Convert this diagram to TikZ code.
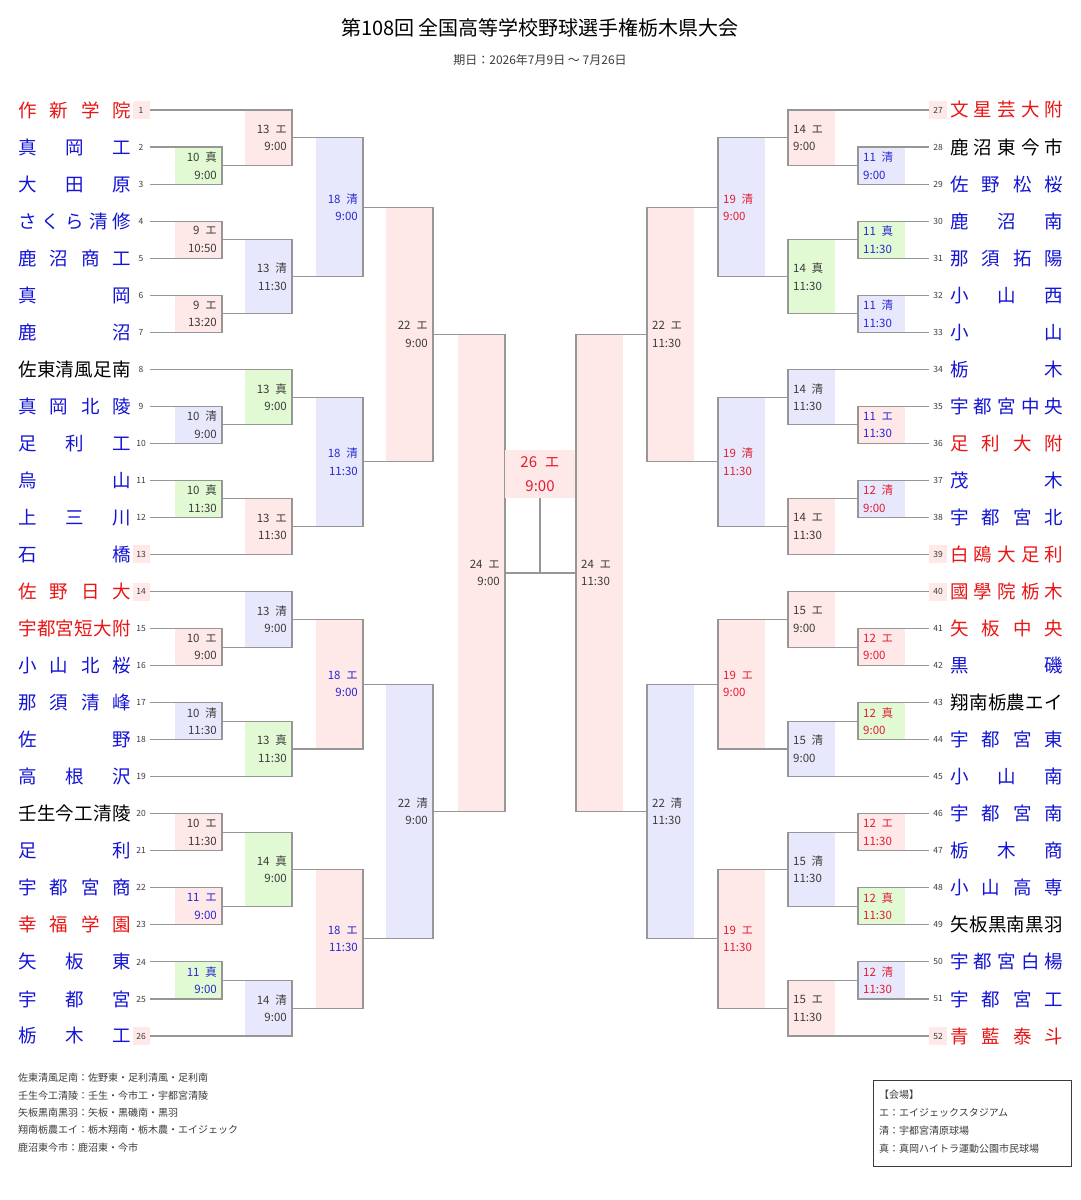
\documentclass[tikz,border=0pt]{standalone}
\usepackage{fontspec}
\usetikzlibrary{calc}
\setmainfont{Noto Sans CJK JP}
\definecolor{pk}{RGB}{255,232,232}
\definecolor{gr}{RGB}{226,250,212}
\definecolor{lv}{RGB}{232,232,252}
\definecolor{dk}{RGB}{60,60,60}
\definecolor{bl}{RGB}{40,40,210}
\definecolor{rd}{RGB}{225,30,50}
\definecolor{tred}{RGB}{235,20,20}
\definecolor{tblue}{RGB}{20,20,215}
\definecolor{lng}{RGB}{150,150,150}
\def\sprd#1{\sprdA#1\relax}
\def\sprdA#1#2{#1\ifx\relax#2\else\hfill\expandafter\sprdA\expandafter#2\fi}
\tikzset{
  ln/.style={draw=lng,line width=1.1pt},
  lbl/.style={font=\fontsize{11.5}{17.5}\selectfont,inner sep=0pt},
  team/.style={anchor=west,inner sep=0pt,font=\fontsize{18.5}{20}\selectfont},
  num/.style={font=\fontsize{8.5}{9}\selectfont,text=dk,inner sep=0pt},
}
% left match: id, X, a, b, fill, day, time, textcolor
\newcommand\mL[8]{%
  \fill[#5] let \p1=(#3),\p2=(#4) in ({(#2-47)*1pt},\y1) rectangle ({#2*1pt},\y2);
  \draw[ln] let \p1=(#3),\p2=(#4) in (#3) -- ({#2*1pt},\y1) -- ({#2*1pt},\y2) -- (#4);
  \path let \p1=(#3),\p2=(#4) in ({#2*1pt},{0.5*\y1+0.5*\y2}) coordinate (#1)
    node[lbl,anchor=east,align=right,text=#8,xshift=-5pt] {#6\\#7};
}
\newcommand\mR[8]{%
  \fill[#5] let \p1=(#3),\p2=(#4) in ({#2*1pt},\y1) rectangle ({(#2+47)*1pt},\y2);
  \draw[ln] let \p1=(#3),\p2=(#4) in (#3) -- ({#2*1pt},\y1) -- ({#2*1pt},\y2) -- (#4);
  \path let \p1=(#3),\p2=(#4) in ({#2*1pt},{0.5*\y1+0.5*\y2}) coordinate (#1)
    node[lbl,anchor=west,align=left,text=#8,xshift=5pt] {#6\\#7};
}
\newcommand\tmL[4]{% k, name, color, seed
  \coordinate (t#1) at (150,{110+37.04*(#1-1)});
  \ifx#4s\fill[pk] (133,{110+37.04*(#1-1)-9}) rectangle (150,{110+37.04*(#1-1)+9});\fi
  \node[num] (n#1) at (141,{110+37.04*(#1-1)}) {#1};
  \node[team,text=#3] (nm#1) at (18,{110+37.04*(#1-1)}) {\makebox[113pt]{\sprd{#2}}};
}
\newcommand\tmR[4]{%
  \coordinate (t#1) at (929,{110+37.04*(#1-27)});
  \ifx#4s\fill[pk] (929,{110+37.04*(#1-27)-9}) rectangle (947,{110+37.04*(#1-27)+9});\fi
  \node[num] (n#1) at (938,{110+37.04*(#1-27)}) {#1};
  \node[team,text=#3] (nm#1) at (950,{110+37.04*(#1-27)}) {\makebox[113pt]{\sprd{#2}}};
}
\begin{document}
\begin{tikzpicture}[x=1pt,y=-1pt]
\useasboundingbox[fill=white] (0,0) rectangle (1081,1200);
\node[font=\fontsize{20}{22}\selectfont] (title) at (540,28) {第108回\ 全国高等学校野球選手権栃木県大会};
\node[font=\fontsize{12}{14}\selectfont,text=dk] (sub) at (540,60) {期日：2026年7月9日\ ～\ 7月26日};
% left teams
\tmL{1}{作新学院}{tred}{s}
\tmL{2}{真岡工}{tblue}{n}
\tmL{3}{大田原}{tblue}{n}
\tmL{4}{さくら清修}{tblue}{n}
\tmL{5}{鹿沼商工}{tblue}{n}
\tmL{6}{真岡}{tblue}{n}
\tmL{7}{鹿沼}{tblue}{n}
\tmL{8}{佐東清風足南}{black}{n}
\tmL{9}{真岡北陵}{tblue}{n}
\tmL{10}{足利工}{tblue}{n}
\tmL{11}{烏山}{tblue}{n}
\tmL{12}{上三川}{tblue}{n}
\tmL{13}{石橋}{tblue}{s}
\tmL{14}{佐野日大}{tred}{s}
\tmL{15}{宇都宮短大附}{tred}{n}
\tmL{16}{小山北桜}{tblue}{n}
\tmL{17}{那須清峰}{tblue}{n}
\tmL{18}{佐野}{tblue}{n}
\tmL{19}{高根沢}{tblue}{n}
\tmL{20}{壬生今工清陵}{black}{n}
\tmL{21}{足利}{tblue}{n}
\tmL{22}{宇都宮商}{tblue}{n}
\tmL{23}{幸福学園}{tred}{n}
\tmL{24}{矢板東}{tblue}{n}
\tmL{25}{宇都宮}{tblue}{n}
\tmL{26}{栃木工}{tblue}{s}
% right teams
\tmR{27}{文星芸大附}{tred}{s}
\tmR{28}{鹿沼東今市}{black}{n}
\tmR{29}{佐野松桜}{tblue}{n}
\tmR{30}{鹿沼南}{tblue}{n}
\tmR{31}{那須拓陽}{tblue}{n}
\tmR{32}{小山西}{tblue}{n}
\tmR{33}{小山}{tblue}{n}
\tmR{34}{栃木}{tblue}{n}
\tmR{35}{宇都宮中央}{tblue}{n}
\tmR{36}{足利大附}{tred}{n}
\tmR{37}{茂木}{tblue}{n}
\tmR{38}{宇都宮北}{tblue}{n}
\tmR{39}{白鴎大足利}{tred}{s}
\tmR{40}{國學院栃木}{tred}{s}
\tmR{41}{矢板中央}{tred}{n}
\tmR{42}{黒磯}{tblue}{n}
\tmR{43}{翔南栃農エイ}{black}{n}
\tmR{44}{宇都宮東}{tblue}{n}
\tmR{45}{小山南}{tblue}{n}
\tmR{46}{宇都宮南}{tblue}{n}
\tmR{47}{栃木商}{tblue}{n}
\tmR{48}{小山高専}{tblue}{n}
\tmR{49}{矢板黒南黒羽}{black}{n}
\tmR{50}{宇都宮白楊}{tblue}{n}
\tmR{51}{宇都宮工}{tblue}{n}
\tmR{52}{青藍泰斗}{tred}{s}
% left matches
\mL{A}{222}{t2}{t3}{gr}{10\hspace{0.5em}真}{9:00}{dk}
\mL{B}{292}{t1}{A}{pk}{13\hspace{0.5em}エ}{9:00}{dk}
\mL{C}{222}{t4}{t5}{pk}{9\hspace{0.5em}エ}{10:50}{dk}
\mL{D}{222}{t6}{t7}{pk}{9\hspace{0.5em}エ}{13:20}{dk}
\mL{E}{292}{C}{D}{lv}{13\hspace{0.5em}清}{11:30}{dk}
\mL{F}{363}{B}{E}{lv}{18\hspace{0.5em}清}{9:00}{bl}
\mL{G}{222}{t9}{t10}{lv}{10\hspace{0.5em}清}{9:00}{dk}
\mL{H}{292}{t8}{G}{gr}{13\hspace{0.5em}真}{9:00}{dk}
\mL{I}{222}{t11}{t12}{gr}{10\hspace{0.5em}真}{11:30}{dk}
\mL{J}{292}{I}{t13}{pk}{13\hspace{0.5em}エ}{11:30}{dk}
\mL{K}{363}{H}{J}{lv}{18\hspace{0.5em}清}{11:30}{bl}
\mL{L}{433}{F}{K}{pk}{22\hspace{0.5em}エ}{9:00}{dk}
\mL{M}{222}{t15}{t16}{pk}{10\hspace{0.5em}エ}{9:00}{dk}
\mL{N}{292}{t14}{M}{lv}{13\hspace{0.5em}清}{9:00}{dk}
\mL{O}{222}{t17}{t18}{lv}{10\hspace{0.5em}清}{11:30}{dk}
\mL{P}{292}{O}{t19}{gr}{13\hspace{0.5em}真}{11:30}{dk}
\mL{Q}{363}{N}{P}{pk}{18\hspace{0.5em}エ}{9:00}{bl}
\mL{R}{222}{t20}{t21}{pk}{10\hspace{0.5em}エ}{11:30}{dk}
\mL{S}{222}{t22}{t23}{pk}{11\hspace{0.5em}エ}{9:00}{bl}
\mL{T}{292}{R}{S}{gr}{14\hspace{0.5em}真}{9:00}{dk}
\mL{U}{222}{t24}{t25}{gr}{11\hspace{0.5em}真}{9:00}{bl}
\mL{V}{292}{U}{t26}{lv}{14\hspace{0.5em}清}{9:00}{dk}
\mL{W}{363}{T}{V}{pk}{18\hspace{0.5em}エ}{11:30}{bl}
\mL{X}{433}{Q}{W}{lv}{22\hspace{0.5em}清}{9:00}{dk}
\mL{Y}{505}{L}{X}{pk}{24\hspace{0.5em}エ}{9:00}{dk}
% right matches
\mR{ra}{858}{t28}{t29}{lv}{11\hspace{0.5em}清}{9:00}{bl}
\mR{rb}{788}{t27}{ra}{pk}{14\hspace{0.5em}エ}{9:00}{dk}
\mR{rc}{858}{t30}{t31}{gr}{11\hspace{0.5em}真}{11:30}{bl}
\mR{rd}{858}{t32}{t33}{lv}{11\hspace{0.5em}清}{11:30}{bl}
\mR{re}{788}{rc}{rd}{gr}{14\hspace{0.5em}真}{11:30}{dk}
\mR{rf}{718}{rb}{re}{lv}{19\hspace{0.5em}清}{9:00}{rd}
\mR{rg}{858}{t35}{t36}{pk}{11\hspace{0.5em}エ}{11:30}{bl}
\mR{rh}{788}{t34}{rg}{lv}{14\hspace{0.5em}清}{11:30}{dk}
\mR{ri}{858}{t37}{t38}{lv}{12\hspace{0.5em}清}{9:00}{rd}
\mR{rj}{788}{ri}{t39}{pk}{14\hspace{0.5em}エ}{11:30}{dk}
\mR{rk}{718}{rh}{rj}{lv}{19\hspace{0.5em}清}{11:30}{rd}
\mR{rl}{647}{rf}{rk}{pk}{22\hspace{0.5em}エ}{11:30}{dk}
\mR{rm}{858}{t41}{t42}{pk}{12\hspace{0.5em}エ}{9:00}{rd}
\mR{rn}{788}{t40}{rm}{pk}{15\hspace{0.5em}エ}{9:00}{dk}
\mR{ro}{858}{t43}{t44}{gr}{12\hspace{0.5em}真}{9:00}{rd}
\mR{rp}{788}{ro}{t45}{lv}{15\hspace{0.5em}清}{9:00}{dk}
\mR{rq}{718}{rn}{rp}{pk}{19\hspace{0.5em}エ}{9:00}{rd}
\mR{rr}{858}{t46}{t47}{pk}{12\hspace{0.5em}エ}{11:30}{rd}
\mR{rs}{858}{t48}{t49}{gr}{12\hspace{0.5em}真}{11:30}{rd}
\mR{rt}{788}{rr}{rs}{lv}{15\hspace{0.5em}清}{11:30}{dk}
\mR{ru}{858}{t50}{t51}{lv}{12\hspace{0.5em}清}{11:30}{rd}
\mR{rv}{788}{ru}{t52}{pk}{15\hspace{0.5em}エ}{11:30}{dk}
\mR{rw}{718}{rt}{rv}{pk}{19\hspace{0.5em}エ}{11:30}{rd}
\mR{rx}{647}{rq}{rw}{lv}{22\hspace{0.5em}清}{11:30}{dk}
\mR{ry}{576}{rl}{rx}{pk}{24\hspace{0.5em}エ}{11:30}{dk}
% final
\node[fill=pk,minimum width=70pt,minimum height=48pt,inner sep=0pt,align=center,text=rd,font=\fontsize{15}{24}\selectfont] (fin) at (540,474) {26\hspace{0.5em}エ\\9:00};
\draw[ln] (Y) -- (ry);
\draw[ln] (fin.south) -- (fin.south |- Y);
% notes
\begin{scope}[every node/.style={anchor=west,inner sep=0pt,font=\fontsize{10}{12}\selectfont,text=dk}]
\node (f1) at (18,1078) {佐東清風足南：佐野東・足利清風・足利南};
\node (f2) at (18,1096) {壬生今工清陵：壬生・今市工・宇都宮清陵};
\node (f3) at (18,1113) {矢板黒南黒羽：矢板・黒磯南・黒羽};
\node (f4) at (18,1130) {翔南栃農エイ：栃木翔南・栃木農・エイジェック};
\node (f5) at (18,1148) {鹿沼東今市：鹿沼東・今市};
\draw[draw=dk,line width=0.6pt] (873,1080) rectangle (1071,1166);
\node (v0) at (879,1095) {【会場】};
\node (v1) at (879,1113) {エ：エイジェックスタジアム};
\node (v2) at (879,1131) {清：宇都宮清原球場};
\node (v3) at (879,1149) {真：真岡ハイトラ運動公園市民球場};
\end{scope}
\end{tikzpicture}
\end{document}
